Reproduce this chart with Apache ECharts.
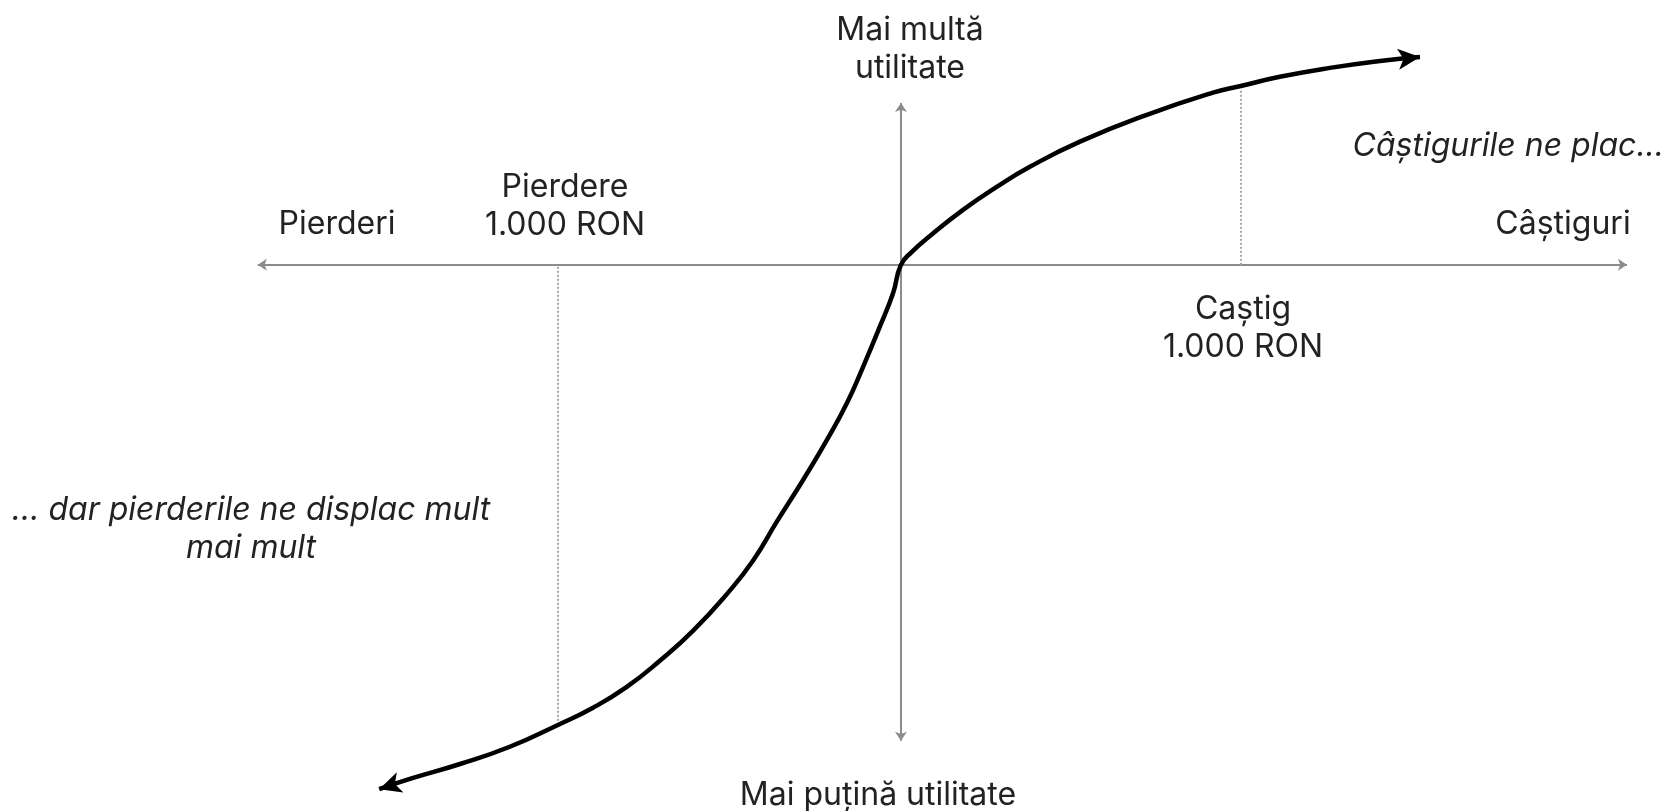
<!DOCTYPE html>
<html>
<head>
<meta charset="utf-8">
<script src="https://cdn.jsdelivr.net/npm/echarts@6/dist/echarts.min.js"></script>
<style>
html,body{margin:0;padding:0;background:#fff;}
#chart{width:1673px;height:811px;}
</style>
</head>
<body>
<div id="chart"></div>
<script>
// Value function (prospect theory)
// x: RON, y: utility (arbitrary units)
const lossX = [-1530, -1440, -1293, -1147, -1006, -903, -804, -707, -610, -510, -434, -364, -287, -217, -158, -111, -62, -23, 0];
const lossY = [-1584, -1553, -1508, -1456, -1390, -1338, -1275, -1196, -1106, -994, -894, -776, -650, -529, -417, -308, -187, -85, 0];
const gainX = [32, 85, 182, 282, 378, 525, 721, 915, 1000, 1111, 1258, 1405, 1522];
const gainY = [39, 87, 166, 236, 296, 372, 453, 520, 541, 568, 595, 616, 628];

// axes extents (data units)
const axisXRange = [-1886, 2129];
const axisYRange = [-1438, 489];
// reference lines: loss of 1.000 RON and gain of 1.000 RON
const refLoss = { x: -1006, from: -6, to: -1381 };
const refGain = { x: 997, from: 0, to: 529 };

const labels = {
  up: 'Mai multă\nutilitate',
  down: 'Mai puțină utilitate',
  losses: 'Pierderi',
  gains: 'Câștiguri',
  loss1000: 'Pierdere\n1.000 RON',
  gain1000: 'Caștig\n1.000 RON',
  gainsNote: 'Câștigurile ne plac...',
  lossNote: '... dar pierderile ne displac mult\nmai mult'
};

const curve = [];
lossX.forEach((x, i) => curve.push([x, lossY[i]]));
gainX.forEach((x, i) => curve.push([x, gainY[i]]));
const curveData = curve.map((p, i) => {
  if (i === 0) return { value: p, symbol: 'arrow', symbolSize: [16, 22], symbolRotate: 108 };
  if (i === curve.length - 1) return { value: p, symbol: 'arrow', symbolSize: [16, 22], symbolRotate: -84 };
  return { value: p, symbol: 'none' };
});

const chart = echarts.init(document.getElementById('chart'));
const txt = { fontFamily: 'Inter', fontSize: 32, fill: '#222', lineHeight: 38 };
chart.setOption({
  animation: false,
  grid: { left: 0, right: 0, top: 0, bottom: 0 },
  xAxis: { type: 'value', min: -2642, max: 2264, show: false },
  yAxis: { type: 'value', min: -1650, max: 800, show: false },
  series: [
    {
      type: 'line',
      data: [],
      silent: true,
      markLine: {
        silent: true,
        animation: false,
        label: { show: false },
        data: [
          [{ coord: [axisXRange[0], 0], symbol: 'arrow', symbolSize: 9, lineStyle: { color: '#8c8c8c', width: 2, type: 'solid' } },
           { coord: [axisXRange[1], 0], symbol: 'arrow', symbolSize: 9 }],
          [{ coord: [0, axisYRange[0]], symbol: 'arrow', symbolSize: 9, lineStyle: { color: '#8c8c8c', width: 2, type: 'solid' } },
           { coord: [0, axisYRange[1]], symbol: 'arrow', symbolSize: 9 }],
          [{ coord: [refLoss.x, refLoss.from], symbol: 'none', lineStyle: { color: '#a8a8a8', width: 2, type: [2, 2] } },
           { coord: [refLoss.x, refLoss.to], symbol: 'none' }],
          [{ coord: [refGain.x, refGain.from], symbol: 'none', lineStyle: { color: '#a8a8a8', width: 2, type: [2, 2] } },
           { coord: [refGain.x, refGain.to], symbol: 'none' }]
        ]
      }
    },
    {
      type: 'line',
      data: curveData,
      smooth: 0.5,
      showSymbol: true,
      showAllSymbol: true,
      symbol: 'none',
      silent: true,
      lineStyle: { color: '#000', width: 4.5 },
      itemStyle: { color: '#000' },
      z: 5
    }
  ],
  graphic: [
    { type: 'text', x: 910, y: 11, style: Object.assign({ text: labels.up, textAlign: 'center' }, txt) },
    { type: 'text', x: 878, y: 776, style: Object.assign({ text: labels.down, textAlign: 'center' }, txt) },
    { type: 'text', x: 337, y: 205, style: Object.assign({ text: labels.losses, textAlign: 'center' }, txt) },
    { type: 'text', x: 1563, y: 205, style: Object.assign({ text: labels.gains, textAlign: 'center' }, txt) },
    { type: 'text', x: 565, y: 168, style: Object.assign({ text: labels.loss1000, textAlign: 'center' }, txt) },
    { type: 'text', x: 1243, y: 290, style: Object.assign({ text: labels.gain1000, textAlign: 'center' }, txt) },
    { type: 'text', x: 1664, y: 127, style: Object.assign({ text: labels.gainsNote, textAlign: 'right', fontStyle: 'italic' }, txt) },
    { type: 'text', x: 251, y: 491, style: Object.assign({ text: labels.lossNote, textAlign: 'center', fontStyle: 'italic' }, txt) }
  ]
});
</script>
</body>
</html>
